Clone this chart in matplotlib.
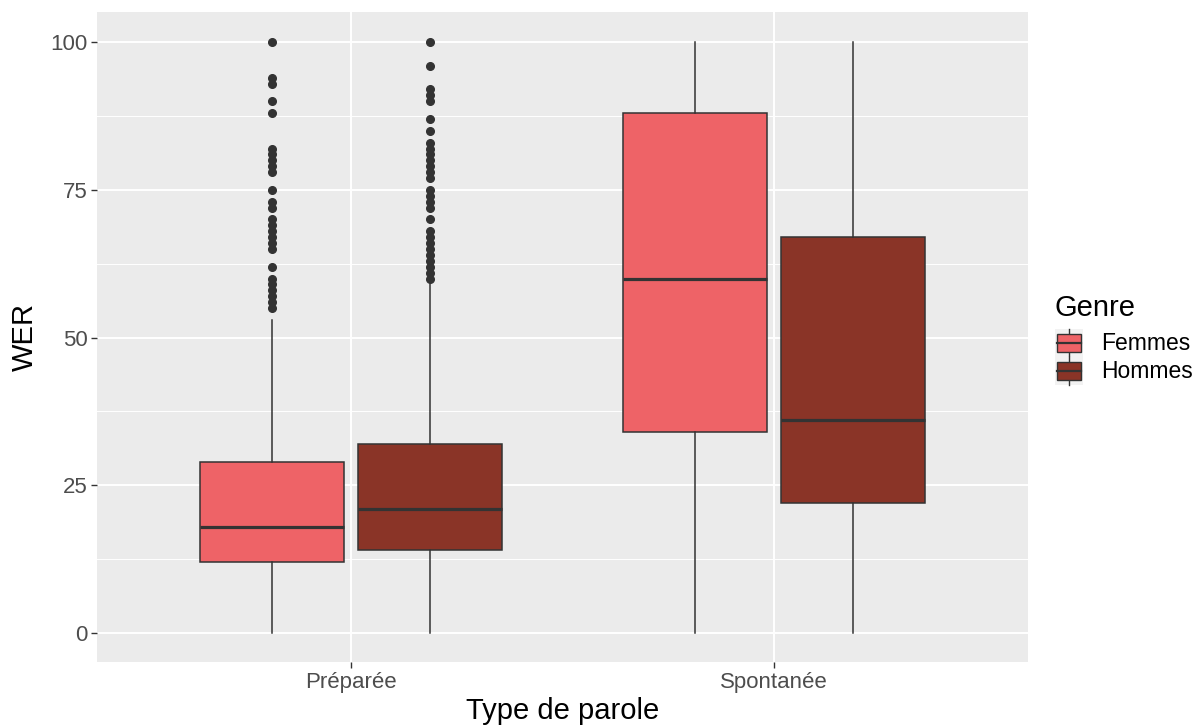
import matplotlib
matplotlib.use("Agg")
import matplotlib.pyplot as plt
from matplotlib.legend_handler import HandlerBase
from matplotlib.patches import Rectangle
from matplotlib.lines import Line2D

plt.rcParams['font.family'] = ['Liberation Sans', 'DejaVu Sans']

# Data
categories = ["Préparée", "Spontanée"]
groups = ["Femmes", "Hommes"]
colors = ["#EE6367", "#8A3427"]

# [category][group] -> (whislo, q1, med, q3, whishi)
stats = [
    [(0, 12, 18, 29, 53), (0, 14, 21, 32, 59)],
    [(0, 34, 60, 88, 100), (0, 22, 36, 67, 100)],
]
outliers = [
    [
        [100, 94, 93, 90, 88, 82, 81, 80, 79, 78, 75, 73, 72, 70, 69, 68, 67, 66, 65,
         62, 60, 59, 58, 57, 56, 55],
        [100, 96, 92, 91, 90, 87, 85, 83, 82, 81, 80, 79, 78, 77, 75, 74, 73, 72, 70,
         68, 67, 66, 65, 64, 63, 62, 61, 60],
    ],
    [[], []],
]

fig = plt.figure(figsize=(11.98, 7.25), dpi=100)
ax = fig.add_axes([0.081, 0.0869, 0.777, 0.8965])
ax.set_facecolor("#EBEBEB")

offsets = [-0.1875, 0.1875]
width = 0.34
for ci, cat in enumerate(categories):
    for gi, grp in enumerate(groups):
        lo, q1, med, q3, hi = stats[ci][gi]
        bs = [dict(whislo=lo, q1=q1, med=med, q3=q3, whishi=hi,
                   fliers=outliers[ci][gi], label=grp)]
        ax.bxp(bs, positions=[ci + 1 + offsets[gi]], widths=width,
               patch_artist=True, showcaps=False, manage_ticks=False,
               boxprops=dict(facecolor=colors[gi], edgecolor="#333333", linewidth=1.1),
               whiskerprops=dict(color="#333333", linewidth=1.1),
               medianprops=dict(color="#333333", linewidth=2.3),
               flierprops=dict(marker="o", markerfacecolor="#333333",
                               markeredgecolor="#333333", markersize=5.5),
               zorder=3)

ax.set_xlim(0.4, 2.6)
ax.set_ylim(-4.9, 105.1)
ax.set_xticks([1, 2])
ax.set_xticklabels(categories)
ax.set_yticks([0, 25, 50, 75, 100])
ax.set_yticks([12.5, 37.5, 62.5, 87.5], minor=True)
ax.grid(True, which="major", color="white", linewidth=1.4, zorder=0)
ax.grid(True, which="minor", axis="y", color="white", linewidth=0.7, zorder=0)
ax.set_axisbelow(True)
for s in ax.spines.values():
    s.set_visible(False)
ax.tick_params(axis="both", which="major", colors="#333333", length=4, width=1.0,
               labelsize=16, labelcolor="#4D4D4D", pad=3)
ax.tick_params(axis="y", which="minor", length=0)

ax.set_xlabel("Type de parole", fontsize=21, color="black", labelpad=3)
ax.set_ylabel("WER", fontsize=21, color="black", labelpad=8)


class BoxHandler(HandlerBase):
    def __init__(self, color):
        super().__init__()
        self.color = color

    def create_artists(self, legend, orig_handle, xdescent, ydescent, width, height,
                       fontsize, trans):
        bg = Rectangle((-xdescent, -ydescent), width, height, facecolor="#F2F2F2",
                       edgecolor="none", transform=trans)
        cx = -xdescent + width / 2
        vl = Line2D([cx, cx], [-ydescent, -ydescent + height], color="#333333",
                    linewidth=1.0, transform=trans)
        bw = width * 0.85
        bh = height * 0.62
        box = Rectangle((cx - bw / 2, -ydescent + height * 0.19), bw, bh,
                        facecolor=self.color, edgecolor="#333333", linewidth=1.0,
                        transform=trans)
        ml = Line2D([cx - bw / 2, cx + bw / 2], [-ydescent + height / 2] * 2,
                    color="#333333", linewidth=1.6, transform=trans)
        return [bg, vl, box, ml]


handles = [Rectangle((0, 0), 1, 1, label=g) for g in groups]
handler_map = {h: BoxHandler(c) for h, c in zip(handles, colors)}
leg = fig.legend(handles=handles, labels=groups, handler_map=handler_map,
                 title="Genre", loc="upper left",
                 bbox_to_anchor=(1055 / 1198, 1 - 294 / 725),
                 frameon=False, fontsize=16.5, title_fontsize=21,
                 handlelength=1.22, handleheight=1.5, handletextpad=0.78,
                 labelspacing=0.0, borderaxespad=0, borderpad=0)
leg._legend_box.align = "left"
leg._legend_box.sep = 5

fig.savefig("out.png", dpi=100)
